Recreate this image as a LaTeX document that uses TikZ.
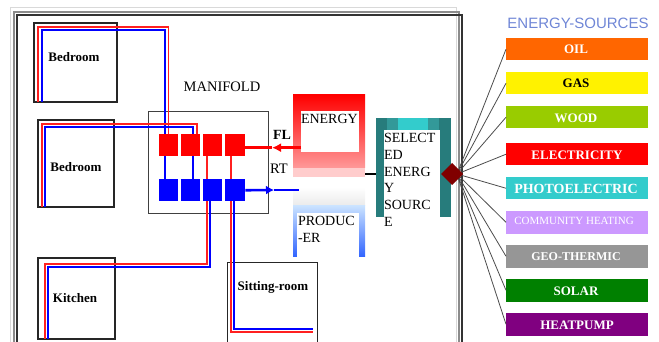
\documentclass[tikz,border=0pt]{standalone}
\usepackage{fontspec}
\setmainfont{Liberation Serif}
\newfontfamily\titlefont{Liberation Sans}
\usetikzlibrary{arrows.meta,shapes.geometric}
\definecolor{tealdark}{HTML}{277C7C}
\definecolor{tealmid}{HTML}{339999}
\definecolor{tealpale}{HTML}{33CCCC}
\definecolor{oilbar}{HTML}{FF6600}
\definecolor{woodbar}{HTML}{99CC00}
\definecolor{communitybar}{HTML}{CC99FF}
\definecolor{geobar}{HTML}{969696}
\definecolor{solarbar}{HTML}{008000}
\definecolor{pumpbar}{HTML}{800080}
\definecolor{titleblue}{HTML}{6F86D6}
\definecolor{pipered}{HTML}{FF2020}
\definecolor{prodtop}{HTML}{CCE4FF}
\definecolor{prodlow}{HTML}{3366FF}
\tikzset{
  every node/.style={inner sep=0,outer sep=0,anchor=north west,font=\fontsize{14}{16.7}\selectfont},
  room/.style={draw=black!85,line width=2pt},
  roomname/.style={anchor=center,font=\fontsize{13}{16}\selectfont\bfseries},
  sqred/.style={fill=red,minimum height=22},
  sqblue/.style={fill=blue,minimum height=22.5},
  redpipe/.style={draw=pipered,line width=1.8pt},
  bluepipe/.style={draw=blue,line width=1.8pt},
  panel/.style={fill=white,align=left},
  paneltext/.style={align=left},
  sourcebar/.style={minimum width=142,minimum height=22.5},
  barname/.style={anchor=center,text=white,font=\fontsize{13}{16}\selectfont\bfseries},
  fan/.style={draw=black!70,line width=.8pt}
}
\begin{document}
\begin{tikzpicture}[x=1pt,y=-1pt]
    \useasboundingbox (0,0) rectangle (659,342);
    % house outline
    \draw[black!15,line width=1pt] (10.5,360) -- (10.5,8) -- (456,8) -- (456,360);
    \draw[black!45,line width=2pt] (14,360) -- (14,12) -- (458.5,12) -- (458.5,360);
    \draw[black!80,line width=1.5pt] (17,360) -- (17,15) -- (462,15) -- (462,360);

    % rooms
    \node[room,minimum width=82.7,minimum height=79.3] (bedA) at (34.3,22.7) {};
    \node[room,minimum width=76.6,minimum height=87.3] (bedB) at (37.7,120) {};
    \node[room,minimum width=76.4,minimum height=80.4] (kitchen) at (38.3,258.3) {};
    \node[room,line width=1.4pt,minimum width=90,minimum height=90] (sitting) at (227.3,262.7) {};
    \node[roomname] (bedAname) at (74,57) {Bedroom};
    \node[roomname] (bedBname) at (76,167) {Bedroom};
    \node[roomname] (kitchenname) at (75,298) {Kitchen};
    \node[roomname] (sittingname) at (273,287) {Sitting-room};

    % manifold
    \node[draw=black!75,line width=.9pt,minimum width=119.7,minimum height=102.3] (manifold) at (148.3,111) {};
    \node[anchor=center,font=\fontsize{14.5}{16}\selectfont] (manifoldname) at (222,87) {MANIFOLD};
    \node[sqred,minimum width=19.6] (redA) at (158.7,134) {};
    \node[sqred,minimum width=19] (redB) at (181.3,134) {};
    \node[sqred,minimum width=18.4] (redC) at (203.3,134) {};
    \node[sqred,minimum width=20] (redD) at (225.3,134) {};
    \node[sqblue,minimum width=19.6] (blueA) at (158.7,179) {};
    \node[sqblue,minimum width=19] (blueB) at (181.3,179) {};
    \node[sqblue,minimum width=18.4] (blueC) at (203.3,179) {};
    \node[sqblue,minimum width=20] (blueD) at (225.3,179) {};

    % pipes
    \draw[redpipe] ([xshift=3.4pt]bedA.south west) -- ++(0,-75.3) -| (redA.north);
    \draw[bluepipe] ([xshift=7.4pt]bedA.south west) -- ++(0,-72) -| ([xshift=-3.5pt]redA.north);
    \draw[bluepipe] ([xshift=-3.5pt]redA.south) -- ([xshift=-3.5pt]blueA.north);
    \draw[redpipe] ([xshift=4pt]bedB.south west) -- ++(0,-83.3) -| ([xshift=6pt]redB.north);
    \draw[bluepipe] ([xshift=7.3pt]bedB.south west) -- ++(0,-80.3) -| ([xshift=2.2pt]redB.north);
    \draw[bluepipe] ([xshift=2.2pt]redB.south) -- ([xshift=2.2pt]blueB.north);
    \draw[redpipe] ([xshift=-5.8pt]redC.south) -- ([xshift=-5.8pt]blueC.north);
    \draw[redpipe] ([xshift=-4.6pt]redD.south) -- ([xshift=-4.6pt]blueD.north);
    \draw[redpipe] ([xshift=6.7pt]kitchen.south west) -- ++(0,-74.7) -| ([xshift=-5.8pt]blueC.south);
    \draw[bluepipe] ([xshift=9.7pt]kitchen.south west) -- ++(0,-71.4) -| ([xshift=-2.5pt]blueC.south);
    \coordinate (sitA) at (313,332);
    \coordinate (sitB) at (313,328.7);
    \draw[redpipe] ([xshift=-4.6pt]blueD.south) |- (sitA);
    \draw[bluepipe] ([xshift=-1.3pt]blueD.south) |- (sitB);

    % energy producer
    \node[top color=red,bottom color=red!40,minimum width=72,minimum height=73] (enback) at (293,95) {};
    \node[fill=red!20,minimum width=72,minimum height=9] (enstrip) at (293,168) {};
    \node[panel,minimum width=58,minimum height=41] (energy) at (301,111) {};
    \node[paneltext] (energyname) at (301,114.4) {ENERGY};
    \node[top color=white,bottom color=black!8,minimum width=72,minimum height=18] (prtop) at (293,187) {};
    \node[top color=prodtop,bottom color=prodlow,minimum width=72,minimum height=51] (prback) at (293,205) {};
    \node[panel,minimum width=62,minimum height=45] (producer) at (297,213) {};
    \node[paneltext] (producername) at (298,216.4) {PRODUC\\-ER};

    % flow and return
    \coordinate (flmid) at (272,147.7);
    \coordinate (rtmid) at (274,190);
    \coordinate (rtend) at (299,190);
    \draw[red,line width=2.6pt,-{Latex[length=9pt,width=9pt]}] (energy.west |- flmid) -- (flmid);
    \draw[red,line width=2.6pt] (flmid) -- (redD.east |- flmid);
    \draw[blue,line width=2.6pt,-{Latex[length=8pt,width=9pt]}] (blueD.east) -- (rtmid);
    \draw[blue,line width=2.6pt] (rtmid) -- (rtend);
    \node[anchor=center,font=\fontsize{14}{16}\selectfont\bfseries] (flname) at (282,135) {FL};
    \node[anchor=center,font=\fontsize{14.5}{16}\selectfont] (rtname) at (279,169) {RT};

    % selected source
    \node[fill=tealdark,minimum width=75,minimum height=99] (selback) at (376,118) {};
    \node[fill=tealmid,minimum width=52,minimum height=12] (selmid) at (387,118) {};
    \node[fill=tealpale,minimum width=30,minimum height=12] (seltop) at (398,118) {};
    \node[panel,minimum width=56,minimum height=97] (selected) at (384,130) {};
    \node[paneltext] (selectedname) at (384,133.4) {SELECT\\ED\\ENERG\\Y\\SOURC\\E};
    \coordinate (hub) at (457,174);
    \draw[black,line width=1.6pt] (enback.east |- hub) -- (selback.west |- hub);

    % sources
    \node[anchor=center,text=titleblue,font=\titlefont\fontsize{15}{18}\selectfont] (sourcestitle) at (578,23) {ENERGY-SOURCES};
    \node[sourcebar,fill=oilbar] (oil) at (506,38) {};
    \node[sourcebar,fill=yellow] (gas) at (506,72) {};
    \node[sourcebar,fill=woodbar] (wood) at (506,106) {};
    \node[sourcebar,fill=red] (electricity) at (506,143) {};
    \node[sourcebar,fill=tealpale] (photo) at (506,177) {};
    \node[sourcebar,fill=communitybar] (community) at (506,211) {};
    \node[sourcebar,fill=geobar] (geo) at (506,245) {};
    \node[sourcebar,fill=solarbar] (solar) at (506,279) {};
    \node[sourcebar,fill=pumpbar] (pump) at (506,313) {};
    \node[barname] (oilname) at (576,49) {OIL};
    \node[barname,text=black] (gasname) at (576,83) {GAS};
    \node[barname] (woodname) at (576,118) {WOOD};
    \node[barname] (electricityname) at (577,155) {ELECTRICITY};
    \node[barname,font=\fontsize{14}{16}\selectfont\bfseries] (photoname) at (576,189) {PHOTOELECTRIC};
    \node[barname,font=\fontsize{11}{14}\selectfont] (communityname) at (574,221) {COMMUNITY HEATING};
    \node[barname,font=\fontsize{12}{16}\selectfont\bfseries] (geoname) at (576,257) {GEO-THERMIC};
    \node[barname] (solarname) at (576,291) {SOLAR};
    \node[barname] (pumpname) at (577,325) {HEATPUMP};

    \draw[fan] (hub) -- (oil.west);
    \draw[fan] (hub) -- (gas.west);
    \draw[fan] (hub) -- (wood.west);
    \draw[fan] (hub) -- (electricity.west);
    \draw[fan] (hub) -- (photo.west);
    \draw[fan] (hub) -- (community.west);
    \draw[fan] (hub) -- (geo.west);
    \draw[fan] (hub) -- (solar.west);
    \draw[fan] (hub) -- (pump.west);
    \node[diamond,anchor=center,fill=red!50!black,minimum width=22,minimum height=22] (switch) at (452,174) {};
\end{tikzpicture}
\end{document}
